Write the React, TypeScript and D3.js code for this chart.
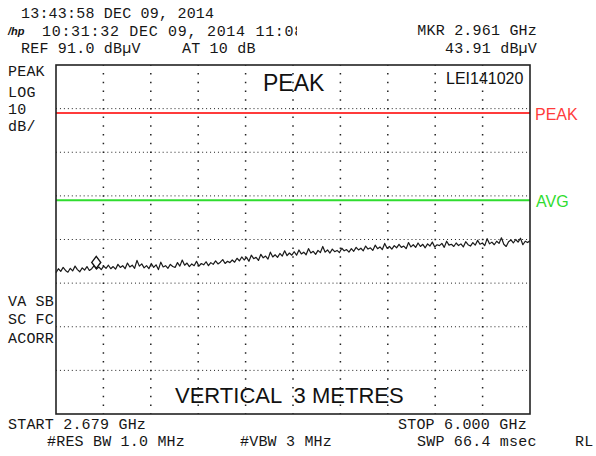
import React from "react";
import * as d3 from "d3";

// analyzer settings
const START_GHZ = 2.679;
const STOP_GHZ = 6.0;
const REF_LEVEL = 91; // dBuV, top of the graticule
const DB_PER_DIV = 10;
const X_DIVS = 10;
const Y_DIVS = 8;

const PEAK_LIMIT = 80;
const AVG_LIMIT = 60;

const MARKER_GHZ = 2.961;
const MARKER_DB = 43.91;

// trace amplitudes (dBuV), sweep points evenly spaced from start to stop
const traceDb = [
  43.4, 44.3, 43.7, 44.6, 43.9, 43.5, 44.4, 43.8, 44.9, 44.1, 43.6, 44.5, 44.0, 44.8, 43.9, 44.3, 45.0, 44.2, 44.7, 44.1, 44.9, 44.4, 45.1, 44.3, 44.8,
  44.2, 45.3, 44.6, 45.0, 44.3, 45.6, 44.7, 45.1, 44.4, 46.2, 44.9, 45.4, 44.5, 45.0, 44.3, 45.5, 44.6, 45.2, 44.1, 45.8, 44.7, 45.0, 44.4, 45.3, 44.8,
  44.6, 45.7, 44.9, 46.3, 45.1, 45.6, 44.8, 45.4, 45.0, 46.0, 44.9, 45.5, 45.2, 45.9, 45.0, 45.7, 45.3, 46.1, 45.4, 45.8, 46.4, 45.5, 46.0, 45.7, 46.3,
  45.8, 46.7, 46.1, 47.0, 46.3, 46.9, 46.0, 47.4, 46.6, 46.9, 46.2, 47.6, 46.8, 47.2, 46.5, 48.1, 47.0, 47.5, 46.9, 47.8, 47.2, 48.4, 47.3, 47.9, 47.4,
  48.2, 47.4, 48.6, 47.7, 48.1, 47.5, 48.9, 47.9, 48.3, 47.6, 48.5, 48.0, 49.4, 48.1, 48.6, 47.9, 48.8, 48.2, 48.5, 48.0, 49.0, 48.4, 48.7, 48.1, 48.9,
  48.3, 49.2, 48.6, 49.0, 48.4, 49.5, 48.8, 49.1, 48.5, 49.7, 48.9, 49.3, 48.7, 50.1, 49.0, 49.4, 48.8, 49.6, 49.1, 49.9, 49.2, 49.5, 48.9, 50.3, 49.3,
  49.8, 49.2, 50.2, 49.4, 49.9, 49.1, 50.0, 49.5, 50.4, 49.3, 49.8, 49.6, 50.1, 49.2, 50.6, 49.7, 49.9, 49.4, 50.2, 49.6, 50.0, 49.3, 50.5, 49.8, 49.5,
  50.3, 49.7, 50.8, 49.9, 50.2, 49.6, 51.2, 50.0, 50.4, 49.8, 50.6, 50.1, 51.4, 49.9, 49.4, 50.5, 50.9, 50.2, 51.0, 50.4, 51.3, 49.8, 50.6, 50.3, 50.7,
];

const leftTopLabels = ["PEAK", "LOG", "10", "dB/"];
const leftBottomLabels = ["VA SB", "SC FC", "ACORR"];

const MONO = "'Liberation Mono', 'DejaVu Sans Mono', monospace";
const SANS = "'Liberation Sans', Arial, sans-serif";
const RED = "#ff3b3b";
const GREEN = "#2fdc2f";

const box = { left: 56, right: 530, top: 65, bottom: 414 };

export default function App() {
  const x = d3.scaleLinear().domain([START_GHZ, STOP_GHZ]).range([box.left, box.right]);
  const y = d3
    .scaleLinear()
    .domain([REF_LEVEL - Y_DIVS * DB_PER_DIV, REF_LEVEL])
    .range([box.bottom, box.top]);

  const n = traceDb.length;
  const traceFreq = traceDb.map((_, i) => START_GHZ + (i * (STOP_GHZ - START_GHZ)) / (n - 1));
  const line = d3
    .line<number>()
    .x((_, i) => x(traceFreq[i]))
    .y((d) => y(d));

  const vGrid = d3.range(1, X_DIVS).map((i) => START_GHZ + (i * (STOP_GHZ - START_GHZ)) / X_DIVS);
  const hGrid = d3.range(1, Y_DIVS).map((i) => REF_LEVEL - i * DB_PER_DIV);
  const divH = (box.bottom - box.top) / Y_DIVS;
  const divW = (box.right - box.left) / X_DIVS;

  const mx = x(MARKER_GHZ);
  const my = y(MARKER_DB) - 8;

  const mono = { fontFamily: MONO, fontSize: 15, fill: "#161616" };

  return (
    <div style={{ position: "absolute", left: 0, top: 0 }}>
      <svg width={596} height={456} style={{ display: "block", background: "#fff" }}>
        <defs>
          <clipPath id="line2clip">
            <rect x={0} y={20} width={297} height={22} />
          </clipPath>
        </defs>

        {/* header */}
        <text x={21} y={18} {...mono} letterSpacing={0.2}>13:43:58 DEC 09, 2014</text>
        <g clipPath="url(#line2clip)">
          <text x={42} y={36} {...mono} letterSpacing={0.7}>10:31:32 DEC 09, 2014 11:08</text>
        </g>
        <text x={8} y={35} fontFamily={SANS} fontSize={11} fontStyle="italic" fontWeight="bold" fill="#111">/hp</text>
        <text x={21} y={53} {...mono} letterSpacing={0.2}>REF 91.0 dBµV</text>
        <text x={182} y={53} {...mono} letterSpacing={0.2}>AT 10 dB</text>
        <text x={537} y={35} {...mono} letterSpacing={0.2} textAnchor="end">MKR {MARKER_GHZ.toFixed(3)} GHz</text>
        <text x={537} y={53} {...mono} letterSpacing={0.2} textAnchor="end">{MARKER_DB.toFixed(2)} dBµV</text>

        {leftTopLabels.map((t, i) => (
          <text key={t} x={8} y={[76, 97, 114, 131][i]} {...mono} letterSpacing={0.2}>{t}</text>
        ))}
        {leftBottomLabels.map((t, i) => (
          <text key={t} x={8} y={[306, 324, 343][i]} {...mono} letterSpacing={0.2} style={{ whiteSpace: "pre" }}>{t}</text>
        ))}

        {/* graticule */}
        {hGrid.map((v) => (
          <line key={"h" + v} x1={box.left} x2={box.right} y1={y(v)} y2={y(v)}
            stroke="#222" strokeWidth={1} strokeDasharray={`1 ${divW / 12 - 1}`} />
        ))}
        {vGrid.map((f) => (
          <line key={"v" + f} x1={x(f)} x2={x(f)} y1={box.top} y2={box.bottom}
            stroke="#222" strokeWidth={1.5} strokeDasharray={`1.5 ${divH / 5 - 1.5}`} strokeDashoffset={0.75} />
        ))}

        {/* limit lines */}
        <line x1={box.left} x2={box.right} y1={y(PEAK_LIMIT)} y2={y(PEAK_LIMIT)} stroke={RED} strokeWidth={2} />
        <line x1={box.left} x2={box.right} y1={y(AVG_LIMIT)} y2={y(AVG_LIMIT)} stroke={GREEN} strokeWidth={2} />
        <text x={535} y={y(PEAK_LIMIT) + 7} fontFamily={SANS} fontSize={16} fill={RED}>PEAK</text>
        <text x={536} y={y(AVG_LIMIT) + 7} fontFamily={SANS} fontSize={16} fill={GREEN}>AVG</text>

        {/* trace */}
        <path d={line(traceDb) ?? ""} fill="none" stroke="#1a1a1a" strokeWidth={1.2} strokeLinejoin="round" />
        <path d={`M${mx},${my - 6} L${mx + 4.5},${my} L${mx},${my + 6} L${mx - 4.5},${my} Z`}
          fill="#fff" stroke="#111" strokeWidth={1.4} />

        <rect x={box.left} y={box.top} width={box.right - box.left} height={box.bottom - box.top}
          fill="none" stroke="#222" strokeWidth={1.6} />

        {/* annotations */}
        <text x={263} y={91} fontFamily={SANS} fontSize={23} fill="#111">PEAK</text>
        <text x={446} y={84} fontFamily={SANS} fontSize={16} fill="#111">LEI141020</text>
        <text x={175} y={403} fontFamily={SANS} fontSize={22} fill="#111" style={{ whiteSpace: "pre" }}>VERTICAL  3 METRES</text>

        {/* footer */}
        <text x={8} y={429} {...mono} letterSpacing={0.2}>START {START_GHZ.toFixed(3)} GHz</text>
        <text x={398} y={429} {...mono} letterSpacing={0.2}>STOP {STOP_GHZ.toFixed(3)} GHz</text>
        <text x={47} y={446} {...mono} letterSpacing={0.2}>#RES BW 1.0 MHz</text>
        <text x={240} y={446} {...mono} letterSpacing={0.2}>#VBW 3 MHz</text>
        <text x={417} y={446} {...mono} letterSpacing={0.2}>SWP 66.4 msec</text>
        <text x={575} y={446} {...mono} letterSpacing={0.2}>RL</text>
      </svg>
    </div>
  );
}
